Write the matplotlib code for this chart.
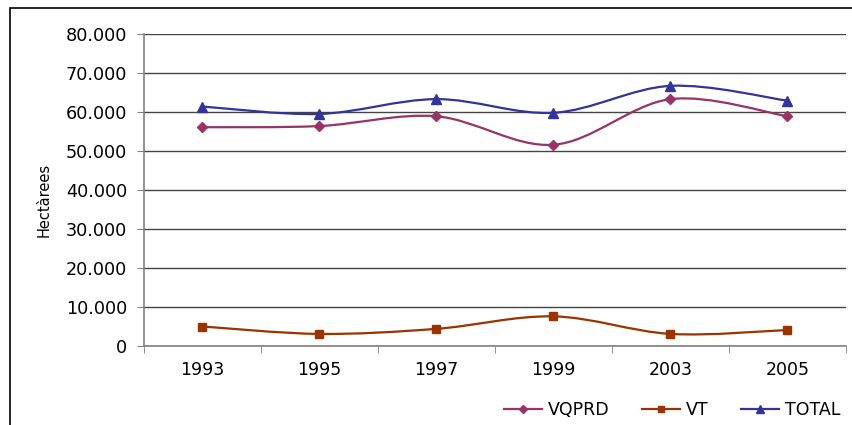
import matplotlib
matplotlib.use('Agg')
import matplotlib.pyplot as plt
import numpy as np
from matplotlib.path import Path
from matplotlib.patches import PathPatch, Rectangle
from matplotlib.lines import Line2D
from matplotlib.ticker import FuncFormatter, FixedLocator

years = ['1993', '1995', '1997', '1999', '2003', '2005']
vqprd = [56100, 56400, 58900, 51600, 63300, 58900]
vt = [5000, 3100, 4400, 7600, 3100, 4100]
total = [61400, 59500, 63300, 59800, 66700, 62900]

plt.rcParams['font.family'] = ['DejaVu Sans']

fig = plt.figure(figsize=(8.53, 4.25), dpi=100)
ax = fig.add_axes([144/853, 1-346/425, (846-144)/853, (346-34)/425])


def smooth_path(xs, ys):
    # excel-like smoothed line: cubic bezier through the points
    pts = np.column_stack([xs, ys]).astype(float)
    n = len(pts)
    verts = [pts[0]]
    codes = [Path.MOVETO]
    for i in range(n-1):
        p0 = pts[max(i-1, 0)]
        p1 = pts[i]
        p2 = pts[i+1]
        p3 = pts[min(i+2, n-1)]
        c1 = p1 + (p2 - p0)/6
        c2 = p2 - (p3 - p1)/6
        verts += [c1, c2, p2]
        codes += [Path.CURVE4]*3
    return Path(verts, codes)


x = np.arange(len(years))
series = [
    ('VQPRD', vqprd, '#993366', 'D', 4.8),
    ('VT', vt, '#993300', 's', 5.8),
    ('TOTAL', total, '#333399', '^', 7),
]
handles = []
for name, vals, col, mk, ms in series:
    ax.add_patch(PathPatch(smooth_path(x, vals), fill=False, edgecolor=col, lw=1.6, zorder=3))
    ax.plot(x, vals, ls='none', marker=mk, ms=ms, color=col, zorder=4)
    handles.append(Line2D([], [], color=col, lw=1.6, marker=mk, ms=ms-0.8))

ax.set_xlim(-0.5, len(years)-0.5)
ax.set_ylim(0, 80000)
ax.set_yticks(np.arange(0, 80001, 10000))
ax.yaxis.set_major_formatter(FuncFormatter(lambda v, p: f"{int(v):,}".replace(',', '.')))
ax.set_xticks(x)
ax.set_xticklabels(years)
ax.xaxis.set_minor_locator(FixedLocator(np.arange(-0.5, len(years), 1.0)))
ax.tick_params(axis='x', which='major', length=0, pad=11, labelsize=12.5)
ax.tick_params(axis='x', which='minor', length=5, direction='out', color='#808080')
ax.tick_params(axis='y', length=5, direction='out', color='#808080', pad=7, labelsize=12.7)

ax.grid(axis='y', color='#444444', lw=1)
ax.set_axisbelow(True)
for s in ['top', 'right']:
    ax.spines[s].set_visible(False)
for s in ['left', 'bottom']:
    ax.spines[s].set_color('#808080')
    ax.spines[s].set_linewidth(1.2)

fig.text(44/853, 1-200/425, 'Hectàrees', rotation=90, ha='center', va='center', fontsize=10.5)

fig.legend(handles, ['VQPRD', 'VT', 'TOTAL'], ncol=3, loc='center',
           bbox_to_anchor=(672/853, 1-410/425), frameon=False, fontsize=12.5,
           handlelength=2.2, handletextpad=0.3, columnspacing=1.9)

fig.patches.append(Rectangle((10/853, -0.2), 1.2, 1-8/425+0.2, transform=fig.transFigure,
                             fill=False, edgecolor='black', lw=1.2))

fig.savefig('out.png', dpi=100)
